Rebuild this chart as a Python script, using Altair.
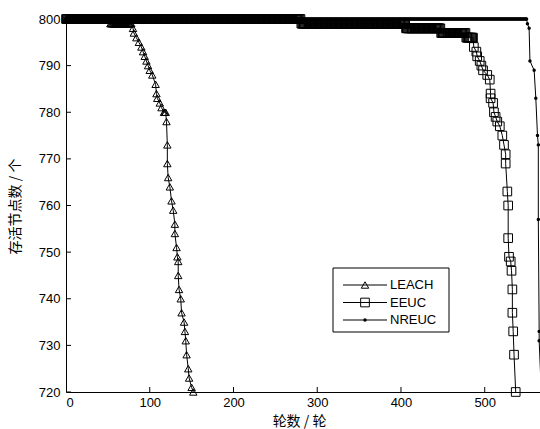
import altair as alt
import pandas as pd

series_names = ["LEACH", "EEUC", "NREUC"]

leach_rounds = [0, 52, 53, 78, 80, 81, 84, 87, 90, 92, 94, 96, 98, 100, 103, 107, 108, 109,
                112, 114, 117, 119, 120, 121, 121, 122, 124, 126, 128, 130, 130, 132, 133,
                134, 134, 135, 137, 138, 141, 142, 143, 144, 146, 147, 150, 152]
leach_alive = [800, 800, 799, 799, 798, 797, 796, 795, 794, 793, 792, 791, 790, 789, 788, 786, 784, 783,
               782, 781, 780, 780, 778, 773, 769, 766, 764, 761, 759, 756, 754, 751, 749,
               748, 745, 742, 740, 737, 735, 733, 731, 728, 725, 723, 721, 720]

eeuc_rounds = [0, 280, 281, 405, 406, 447, 448, 477, 478, 486, 487, 490, 491, 494, 496, 498, 503,
               506, 507, 507, 510, 511, 513, 515, 518, 521, 523, 525, 525, 527, 528, 528, 529,
               531, 532, 533, 533, 534, 535, 537]
eeuc_alive = [800, 800, 799, 799, 798, 798, 797, 797, 796, 796, 794, 793, 792, 791, 790, 789, 788,
              787, 784, 783, 782, 780, 779, 778, 777, 775, 773, 771, 769, 763, 760, 753, 749,
              748, 746, 742, 737, 733, 728, 720]

nreuc_rounds = [0, 550, 551, 553, 554, 559, 561, 563, 564, 564, 565, 565, 568]
nreuc_alive = [800, 800, 799, 798, 791, 789, 783, 775, 773, 757, 733, 731, 718]

x_ticks = [0, 100, 200, 300, 400, 500]
y_ticks = [720, 730, 740, 750, 760, 770, 780, 790, 800]

X_MAX = 566
W, H = 474, 373


def build(name, rounds, alive):
    rows = []
    for i in range(len(rounds)):
        # a constant run of the count: one record per round, as in the original per-round output
        if i > 0 and alive[i] == alive[i - 1] and rounds[i] - rounds[i - 1] > 1:
            for r in range(rounds[i - 1] + 1, rounds[i]):
                rows.append((r, alive[i]))
        rows.append((rounds[i], alive[i]))
    return pd.DataFrame({"series": name, "round": [r[0] for r in rows],
                         "alive": [r[1] for r in rows], "idx": list(range(len(rows)))})


df = pd.concat([
    build("LEACH", leach_rounds, leach_alive),
    build("EEUC", eeuc_rounds, eeuc_alive),
    build("NREUC", nreuc_rounds, nreuc_alive),
], ignore_index=True)

xscale = alt.Scale(domain=[0, X_MAX], nice=False, zero=False)
yscale = alt.Scale(domain=[720, 800], nice=False, zero=False)

x_enc = alt.X("round:Q", scale=xscale,
              axis=alt.Axis(values=x_ticks, ticks=False, grid=False, labelPadding=4,
                            title="轮数 / 轮", titleX=233, titleY=29,
                            titleBaseline="middle", titleAlign="center"))
y_enc = alt.Y("alive:Q", scale=yscale,
              axis=alt.Axis(values=y_ticks, ticks=False, grid=False, labelPadding=6,
                            title="存活节点数 / 个", titleX=-51, titleY=187, titleAngle=270,
                            titleBaseline="middle", titleAlign="center"))

base = alt.Chart(df)

lines = base.mark_line(color="black", strokeWidth=1, clip=True).encode(
    x=x_enc, y=y_enc, detail="series:N", order="idx:Q")

pts_leach = base.transform_filter("datum.series == 'LEACH'").mark_point(
    shape="triangle-up", filled=False, color="black", size=55, strokeWidth=1, opacity=1
).encode(x=alt.X("round:Q", scale=xscale), y=alt.Y("alive:Q", scale=yscale))

pts_eeuc = base.transform_filter("datum.series == 'EEUC'").mark_point(
    shape="square", filled=False, color="black", size=75, strokeWidth=1, opacity=1
).encode(x=alt.X("round:Q", scale=xscale), y=alt.Y("alive:Q", scale=yscale))

pts_nreuc = base.transform_filter(
    "datum.series == 'NREUC' && datum.round <= %d" % X_MAX).mark_point(
    shape="circle", filled=True, color="black", size=12, opacity=1
).encode(x=alt.X("round:Q", scale=xscale), y=alt.Y("alive:Q", scale=yscale))

xtick_rules = alt.Chart(pd.DataFrame({"t": x_ticks[1:]})).mark_rule(
    color="black", strokeWidth=1).encode(
    x=alt.X("t:Q", scale=xscale), y=alt.value(H), y2=alt.value(H - 5))

ytick_rules = alt.Chart(pd.DataFrame({"t": y_ticks})).mark_rule(
    color="black", strokeWidth=1).encode(
    y=alt.Y("t:Q", scale=yscale), x=alt.value(0), x2=alt.value(5))

# legend box (decoration)
one = pd.DataFrame({"a": [0]})
legend_layers = [
    alt.Chart(one).mark_rect(fill="white", stroke="black", strokeWidth=1).encode(
        x=alt.value(267), x2=alt.value(383), y=alt.value(249), y2=alt.value(313))
]
shapes = {"LEACH": ("triangle-up", False, 55), "EEUC": ("square", False, 75),
          "NREUC": ("circle", True, 12)}
for i, name in enumerate(series_names):
    yy = 266 + 17.5 * i
    d = pd.DataFrame({"label": [name]})
    shp, filled, sz = shapes[name]
    legend_layers.append(alt.Chart(d).mark_rule(color="black", strokeWidth=1).encode(
        x=alt.value(277), x2=alt.value(321), y=alt.value(yy)))
    legend_layers.append(alt.Chart(d).mark_point(
        shape=shp, filled=filled, color="black", size=sz, strokeWidth=1, opacity=1).encode(
        x=alt.value(299), y=alt.value(yy)))
    legend_layers.append(alt.Chart(d).mark_text(
        align="left", baseline="middle", font="Liberation Sans", fontSize=13, color="black").encode(
        text="label:N", x=alt.value(324), y=alt.value(yy)))

chart = alt.layer(lines, pts_leach, pts_eeuc, pts_nreuc, xtick_rules, ytick_rules,
                  *legend_layers).properties(
    width=W, height=H, autosize="none",
    padding={"left": 66, "top": 19, "right": 0, "bottom": 37},
    background="white",
).configure_view(strokeWidth=0).configure_axis(
    labelFont="Liberation Sans", labelFontSize=13, labelColor="black",
    domainColor="black", domainWidth=1,
    titleFont="Noto Sans CJK SC", titleFontSize=14, titleFontWeight="normal", titleColor="black",
)

chart.save("out.html", embed_options={"renderer": "svg", "actions": False})
